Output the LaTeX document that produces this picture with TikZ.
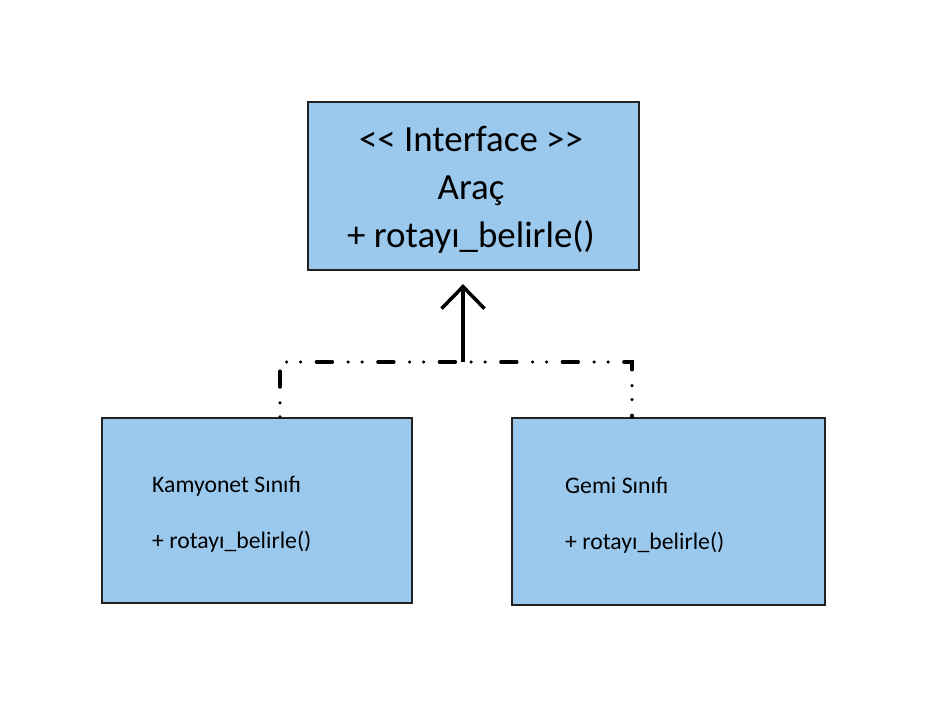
\documentclass[tikz,border=0pt]{standalone}
\usepackage{fontspec}
\setmainfont{Carlito}
\usepackage{xcolor}
\usetikzlibrary{arrows.meta, positioning}
\definecolor{boxblue}{RGB}{155,201,238}
\definecolor{boxline}{RGB}{34,34,34}

\begin{document}
\begin{tikzpicture}[x=0.02cm, y=-0.02cm,
  classbox/.style={draw=boxline, line width=1.3pt, fill=boxblue, inner sep=0pt},
  member/.style={inner sep=0pt, align=left, font=\fontsize{13.5}{32}\selectfont},
  realizes/.style={line width=2pt, line cap=round, dash pattern=on 0pt off 8pt on 0pt off 9pt on 9pt off 9pt},
  generalizes/.style={line width=2pt, -{Straight Barb[length=4.4mm, width=8.6mm, line width=2pt]}}]
\useasboundingbox (0,0) rectangle (926,707);

\node[classbox, minimum width=6.62cm, minimum height=3.36cm] (arac) at (473.5,186) {};
\node[classbox, minimum width=6.2cm, minimum height=3.7cm] (kamyonet) at (257,510.5) {};
\node[classbox, minimum width=6.26cm, minimum height=3.74cm] (gemi) at (668.5,511.5) {};

\node[inner sep=0pt, align=center, font=\fontsize{21}{27.5}\selectfont]
  (aracText) at (471,190) {<\kern0pt< Interface >\kern0pt>\\Araç\\+ rotayı\_belirle()};
\node[member, right=1.02cm of kamyonet.west, yshift=-0.08cm] (kamyonetText)
  {Kamyonet Sınıfı\\+ rotayı\_belirle()};
\node[member, right=1.08cm of gemi.west, yshift=-0.08cm] (gemiText)
  {Gemi Sınıfı\\+ rotayı\_belirle()};

\coordinate (join) at (463,362);
\draw[realizes] ([xshift=0.46cm]kamyonet.north) |- (join) -| ([xshift=-0.73cm]gemi.north);
\draw[generalizes] (join) -- ([yshift=-0.26cm]arac.south -| join);
\end{tikzpicture}
\end{document}
